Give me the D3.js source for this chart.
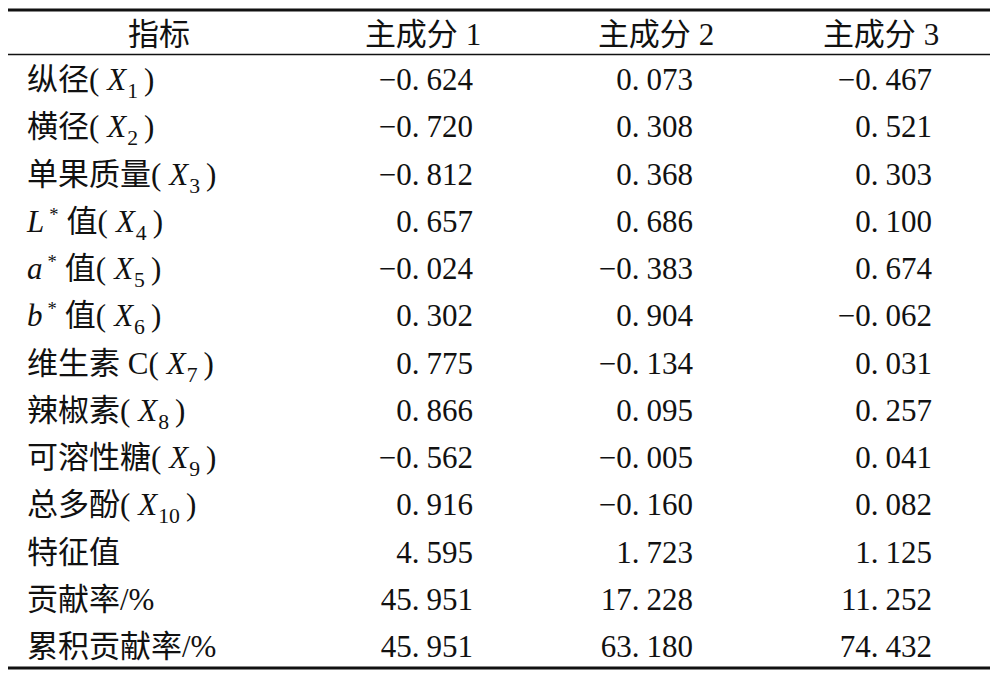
<!DOCTYPE html>
<html>
<head>
<meta charset="utf-8">
<script src="https://cdn.jsdelivr.net/npm/d3@7/dist/d3.min.js"></script>
<style>
  html, body { margin: 0; padding: 0; background: #fff; }
  svg { display: block; }
  text { fill: #111; }
  .lat { font-family: "Liberation Serif", "Times New Roman", serif; }
  .cjk { font-family: "Noto Sans CJK SC", sans-serif; }
</style>
</head>
<body>
<svg id="chart" width="992" height="678"></svg>
<script>
// ---- data ----
const headers = ["指标", "主成分 1", "主成分 2", "主成分 3"];
const indicatorNames = ["纵径", "横径", "单果质量", "L*值", "a*值", "b*值", "维生素 C", "辣椒素", "可溶性糖", "总多酚", "特征值", "贡献率/%", "累积贡献率/%"];
const varIndex = [1, 2, 3, 4, 5, 6, 7, 8, 9, 10, null, null, null];
const pc1 = [-0.624, -0.720, -0.812, 0.657, -0.024, 0.302, 0.775, 0.866, -0.562, 0.916, 4.595, 45.951, 45.951];
const pc2 = [0.073, 0.308, 0.368, 0.686, -0.383, 0.904, -0.134, 0.095, -0.005, -0.160, 1.723, 17.228, 63.180];
const pc3 = [-0.467, 0.521, 0.303, 0.100, 0.674, -0.062, 0.031, 0.257, 0.041, 0.082, 1.125, 11.252, 74.432];

// ---- layout ----
const svg = d3.select("#chart");
const fs = 31;
const series = [pc1, pc2, pc3];
const rowIdx = d3.range(indicatorNames.length);

const y = d3.scalePoint().domain(rowIdx).range([90, 657]);
const colRight = d3.scaleOrdinal().domain([0, 1, 2]).range([473, 693, 932]);
const headX = d3.scaleOrdinal().domain([0, 1, 2, 3]).range([159, 423, 656, 881]);

// split a string into CJK / Latin runs, appended as tspans
const isCJK = ch => /[\u3000-\u9fff\uff00-\uffef]/.test(ch);
function appendRuns(t, str, first) {
  let runs = [];
  for (const ch of str) {
    const k = isCJK(ch) ? "cjk" : "lat";
    if (runs.length && runs[runs.length - 1].k === k) runs[runs.length - 1].s += ch;
    else runs.push({ k, s: ch });
  }
  runs.forEach(r => t.append("tspan").attr("class", r.k).text(r.s));
}

// rules
const rules = [
  { y: 10, w: 3 },
  { y: 54.5, w: 1.5 },
  { y: 668, w: 3 }
];
svg.selectAll("line.rule").data(rules).join("line")
  .attr("class", "rule")
  .attr("x1", 8).attr("x2", 990)
  .attr("y1", d => d.y).attr("y2", d => d.y)
  .attr("stroke", "#111").attr("stroke-width", d => d.w);

// headers
headers.forEach((h, i) => {
  const t = svg.append("text")
    .attr("class", "lat")
    .attr("x", headX(i)).attr("y", 45)
    .attr("text-anchor", "middle")
    .attr("font-size", fs);
  appendRuns(t, h);
});

// row labels
rowIdx.forEach(i => {
  const name = indicatorNames[i];
  const t = svg.append("text")
    .attr("class", "lat")
    .attr("x", 27).attr("y", y(i))
    .attr("font-size", fs);
  const m = name.match(/^([A-Za-z])\*(.*)$/);
  if (m) {
    t.append("tspan").attr("font-style", "italic").text(m[1]);
    t.append("tspan").attr("dx", 5).attr("dy", -11).attr("font-size", fs * 0.6).text("*");
    t.append("tspan").attr("class", "cjk").attr("dx", 8).attr("dy", 11).text(m[2]);
  } else {
    appendRuns(t, name);
  }
  const v = varIndex[i];
  if (v !== null) {
    t.append("tspan").text("(");
    t.append("tspan").attr("dx", 8).attr("font-style", "italic").text("X");
    t.append("tspan").attr("dx", 1).attr("dy", 8).attr("font-size", fs * 0.7).text(v);
    t.append("tspan").attr("dx", 6).attr("dy", -8).text(")");
  }
});

// values
const fmt = d3.format(".3f");
series.forEach((vals, c) => {
  vals.forEach((v, i) => {
    const s = fmt(v).replace("-", "\u2212");
    const [ip, dp] = s.split(".");
    const t = svg.append("text")
      .attr("class", "lat")
      .attr("x", colRight(c)).attr("y", y(i))
      .attr("text-anchor", "end")
      .attr("font-size", fs);
    t.append("tspan").text(ip + ".");
    t.append("tspan").attr("dx", 7).text(dp);
  });
});
</script>
</body>
</html>
